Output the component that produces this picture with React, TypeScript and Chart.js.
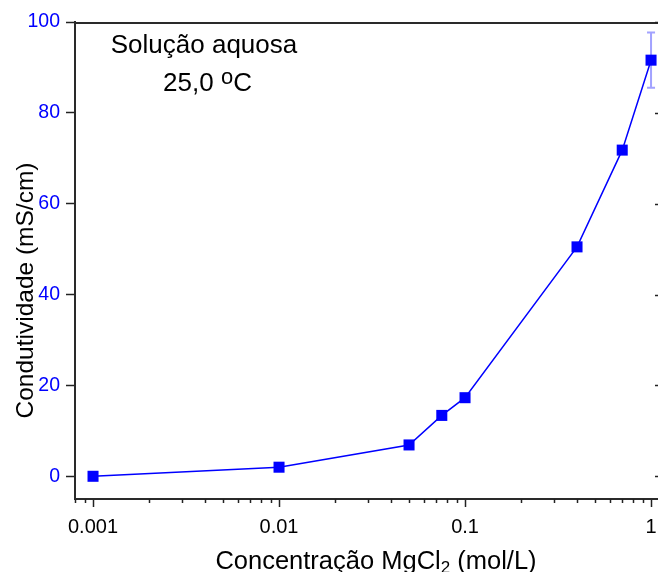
import React, { useEffect, useRef } from "react";
import { Chart, registerables } from "chart.js";

Chart.register(...registerables);

// Concentração de MgCl2 (mol/L) e condutividade medida (mS/cm)
const concentracoes = [0.001, 0.01, 0.05, 0.075, 0.1, 0.4, 0.7, 1.0];
const condutividades = [0.0, 2.0, 6.9, 13.4, 17.3, 50.5, 71.8, 91.6];
const erros = [0, 0, 0, 0, 0, 0, 0, 6.1];

const yTicks = [0, 20, 40, 60, 80, 100];
const xDecades = [0.001, 0.01, 0.1, 1];
const xDecadeLabels = ["0.001", "0.01", "0.1", "1"];

const FONT = "'Liberation Sans', Arial, sans-serif";
const BLUE = "#0000ff";

// all log-axis tick positions: decades plus 2..9 minors
function logTicks(min: number, max: number): number[] {
  const out: number[] = [];
  for (let e = -4; e <= 1; e++) {
    for (let m = 1; m <= 9; m++) {
      const v = parseFloat((m * Math.pow(10, e)).toPrecision(3));
      if (v >= min * 0.9999 && v <= max * 1.0001) out.push(v);
    }
  }
  return out;
}

const isDecade = (v: number) =>
  xDecades.some((d) => Math.abs(v - d) / d < 1e-6);

const decorations = {
  id: "decorations",
  beforeDatasetsDraw(chart: any) {
    const { ctx } = chart;
    const xs = chart.scales.x;
    const ys = chart.scales.y;
    // error bars behind the markers
    ctx.save();
    ctx.strokeStyle = "rgba(70,70,255,0.5)";
    ctx.lineWidth = 2;
    concentracoes.forEach((c, i) => {
      const e = erros[i];
      if (!e) return;
      const px = xs.getPixelForValue(c);
      const top = ys.getPixelForValue(condutividades[i] + e);
      const bot = ys.getPixelForValue(condutividades[i] - e);
      ctx.beginPath();
      ctx.moveTo(px, top);
      ctx.lineTo(px, bot);
      ctx.moveTo(px - 4, top);
      ctx.lineTo(px + 4, top);
      ctx.moveTo(px - 4, bot);
      ctx.lineTo(px + 4, bot);
      ctx.stroke();
    });
    ctx.restore();
  },
  afterDraw(chart: any) {
    const { ctx, chartArea } = chart;
    const xs = chart.scales.x;
    const ys = chart.scales.y;
    ctx.save();

    // top frame line
    ctx.strokeStyle = "#2a2a2a";
    ctx.lineWidth = 2;
    ctx.beginPath();
    ctx.moveTo(chartArea.left - 1, chartArea.top + 1);
    ctx.lineTo(chartArea.right, chartArea.top + 1);
    ctx.stroke();

    // inward ticks on the right side
    ctx.lineWidth = 1.5;
    ctx.strokeStyle = "#222";
    yTicks.forEach((v) => {
      const py = Math.round(ys.getPixelForValue(v)) + 0.5;
      ctx.beginPath();
      ctx.moveTo(chartArea.right - 3, py);
      ctx.lineTo(chartArea.right, py);
      ctx.stroke();
    });

    // minor ticks on the log axis
    ctx.lineWidth = 1.5;
    xs.ticks.forEach((t: any) => {
      if (isDecade(t.value)) return;
      const px = Math.round(xs.getPixelForValue(t.value)) + 0.5;
      ctx.beginPath();
      ctx.moveTo(px, chartArea.bottom);
      ctx.lineTo(px, chartArea.bottom + 4);
      ctx.stroke();
    });

    // axis titles
    ctx.fillStyle = "#000";
    ctx.textBaseline = "alphabetic";
    const big = `25.5px ${FONT}`;
    const small = `17px ${FONT}`;
    const p1 = "Concentração MgCl";
    const p3 = " (mol/L)";
    ctx.font = big;
    const w1 = ctx.measureText(p1).width;
    const w3 = ctx.measureText(p3).width;
    ctx.font = small;
    const w2 = ctx.measureText("2").width;
    const total = w1 + w2 + w3;
    const x0 = 376 - total / 2;
    const base = 569;
    ctx.textAlign = "left";
    ctx.font = big;
    ctx.fillText(p1, x0, base);
    ctx.font = small;
    ctx.fillText("2", x0 + w1, base + 4);
    ctx.font = big;
    ctx.fillText(p3, x0 + w1 + w2, base);

    ctx.save();
    ctx.translate(33, 290.5);
    ctx.rotate(-Math.PI / 2);
    ctx.textAlign = "center";
    ctx.font = `24.5px ${FONT}`;
    ctx.fillText("Condutividade (mS/cm)", 0, 0);
    ctx.restore();

    // annotation
    ctx.textAlign = "center";
    ctx.font = `26px ${FONT}`;
    ctx.fillText("Solução aquosa", 204, 53);

    ctx.textAlign = "left";
    ctx.font = `26px ${FONT}`;
    const a = "25,0 ";
    const wa = ctx.measureText(a).width;
    const wc = ctx.measureText("C").width;
    ctx.font = `22px ${FONT}`;
    const wo = ctx.measureText("o").width;
    const tw = wa + wo + wc;
    const ax = 207.5 - tw / 2;
    ctx.font = `26px ${FONT}`;
    ctx.fillText(a, ax, 91);
    ctx.font = `22px ${FONT}`;
    ctx.fillText("o", ax + wa, 84);
    ctx.font = `26px ${FONT}`;
    ctx.fillText("C", ax + wa + wo, 91);

    ctx.restore();
  },
};

export default function App() {
  const ref = useRef<HTMLCanvasElement | null>(null);

  useEffect(() => {
    if (!ref.current) return;
    const xMin = 0.0008;
    const xMax = 1.09;
    const chart = new Chart(ref.current, {
      type: "line",
      data: {
        datasets: [
          {
            data: concentracoes.map((c, i) => ({ x: c, y: condutividades[i] })),
            borderColor: BLUE,
            backgroundColor: BLUE,
            borderWidth: 1.5,
            pointStyle: "rect",
            pointRadius: 7.8,
            pointBorderWidth: 0,
            pointBackgroundColor: BLUE,
            tension: 0,
          },
        ],
      },
      options: {
        animation: false,
        responsive: false,
        devicePixelRatio: 1,
        layout: {
          autoPadding: false,
          padding: { top: 22, right: 0, left: 0, bottom: 0 },
        },
        plugins: {
          legend: { display: false },
          tooltip: { enabled: false },
        },
        scales: {
          x: {
            type: "logarithmic",
            min: xMin,
            max: xMax,
            afterBuildTicks: (scale: any) => {
              scale.ticks = logTicks(xMin, xMax).map((v) => ({ value: v }));
            },
            afterFit: (scale: any) => {
              scale.height = 73;
              scale.paddingLeft = 0;
              scale.paddingRight = 0;
            },
            ticks: {
              autoSkip: false,
              maxRotation: 0,
              minRotation: 0,
              padding: 8,
              color: "#000",
              font: { family: FONT, size: 20 },
              callback: (value: any) => {
                const i = xDecades.findIndex(
                  (d) => Math.abs(Number(value) - d) / d < 1e-6
                );
                return i >= 0 ? xDecadeLabels[i] : "";
              },
            },
            grid: {
              display: true,
              drawOnChartArea: false,
              drawTicks: true,
              tickLength: 8,
              tickWidth: 1.5,
              tickColor: (ctx: any) =>
                ctx.tick && isDecade(ctx.tick.value) ? "#222" : "rgba(0,0,0,0)",
            },
            border: { display: true, color: "#2a2a2a", width: 2 },
          },
          y: {
            type: "linear",
            min: -5,
            max: 100,
            afterBuildTicks: (scale: any) => {
              scale.ticks = yTicks.map((v) => ({ value: v }));
            },
            afterFit: (scale: any) => {
              scale.width = 75;
              scale.paddingTop = 0;
              scale.paddingBottom = 0;
            },
            ticks: {
              padding: 6,
              color: BLUE,
              font: { family: FONT, size: 19.5 },
              callback: (v: any) => String(v),
            },
            grid: {
              display: true,
              drawOnChartArea: false,
              drawTicks: true,
              tickLength: 9,
              tickWidth: 1.5,
              tickColor: "#222",
            },
            border: { display: true, color: "#2a2a2a", width: 2 },
          },
        },
      },
      plugins: [decorations],
    });
    return () => chart.destroy();
  }, []);

  return (
    <div
      style={{
        position: "fixed",
        left: 0,
        top: 0,
        width: 658,
        height: 572,
        background: "#fff",
        overflow: "hidden",
      }}
    >
      <canvas ref={ref} width={658} height={572} style={{ display: "block" }} />
    </div>
  );
}
